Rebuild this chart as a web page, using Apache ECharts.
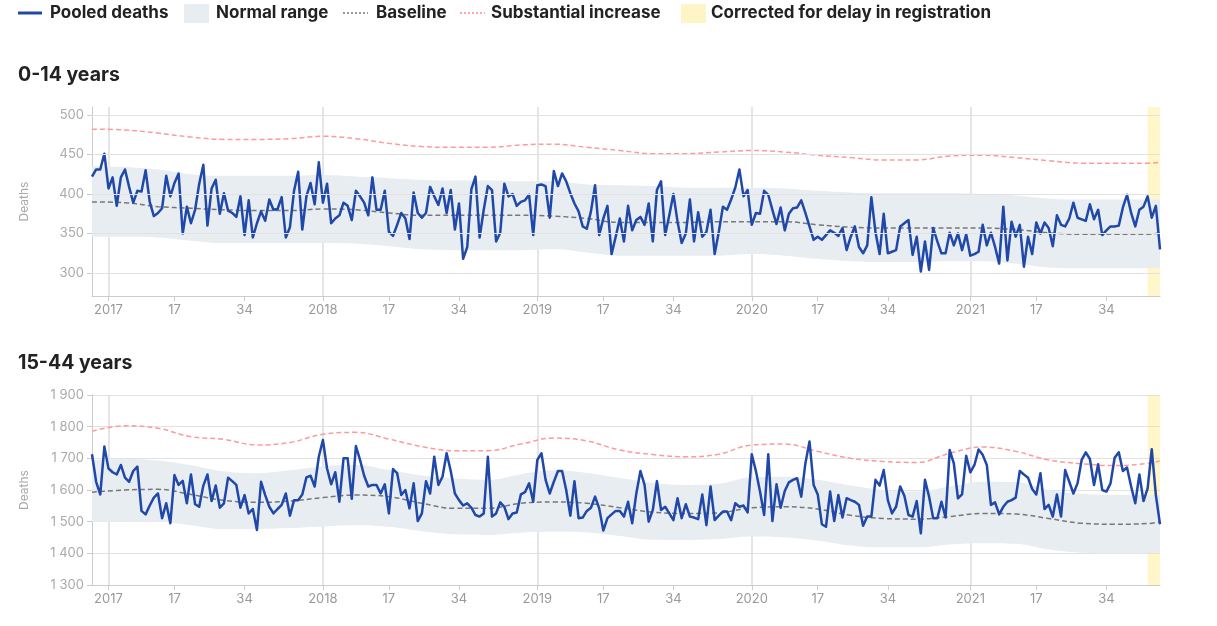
<!DOCTYPE html>
<html><head><meta charset="utf-8">
<script src="https://cdn.jsdelivr.net/npm/echarts@6/dist/echarts.min.js"></script>
<style>html,body{margin:0;padding:0;background:#fff}#c{width:1217px;height:626px}</style>
</head><body><div id="c"></div>
<script>
// ISO weeks shown: [year, firstWeek, lastWeek]
const yearWeeks = [[2016,49,52],[2017,1,52],[2018,1,52],[2019,1,52],[2020,1,53],[2021,1,47]];
const categories = [];
yearWeeks.forEach(([y,a,b]) => { for (let w = a; w <= b; w++) categories.push(y + '-W' + String(w).padStart(2,'0')); });
const labelWeeks = [1,17,34];
const delayStart = '2021-W44', delayEnd = '2021-W47';

const panelTitles = ['0-14 years','15-44 years'];
const yTicks1 = [300,350,400,450,500];
const yTicks2 = [1300,1400,1500,1600,1700,1800,1900];

// Pooled deaths, weekly
const deaths1 = [
422,431,431,451,407,421,385,421,431,409,
389,404,403,430,390,372,376,382,423,397,
414,426,350,384,363,380,413,437,360,407,
418,375,401,379,376,371,397,348,392,345,
363,378,366,393,380,381,396,345,358,404,
428,355,397,414,387,440,389,413,363,369,
373,389,385,367,404,397,389,373,421,380,
380,404,352,347,361,376,369,343,402,376,
370,376,409,397,386,407,376,405,355,388,
318,333,406,422,345,380,410,405,340,351,
413,397,400,385,390,392,399,348,411,412,
410,370,429,410,426,416,401,388,378,359,
356,378,411,348,369,385,324,346,369,340,
385,354,367,371,361,388,340,405,416,348,
373,400,365,338,350,393,340,377,346,352,
380,324,352,384,380,393,408,431,397,405,
361,376,375,404,399,380,362,383,354,375,
382,383,392,376,359,342,346,342,348,354,
351,347,357,329,346,359,333,325,335,396,
352,324,375,325,327,329,359,363,367,323,
346,302,340,304,357,340,325,325,351,335,
350,329,349,322,324,327,361,335,351,333,
312,384,316,365,346,361,308,346,324,364,
350,364,357,334,373,361,359,369,389,370,
368,366,387,368,380,348,354,359,359,360,
383,399,376,359,380,384,397,370,385,330];
const deaths2 = [
1713,1626,1586,1737,1668,1656,1649,1679,1639,1626,
1660,1674,1534,1523,1551,1576,1589,1511,1558,1495,
1647,1616,1629,1558,1649,1555,1547,1614,1649,1565,
1614,1544,1558,1639,1628,1616,1544,1584,1526,1540,
1474,1626,1584,1547,1526,1540,1553,1589,1519,1568,
1568,1586,1640,1645,1611,1705,1758,1668,1618,1656,
1563,1700,1700,1572,1739,1695,1645,1611,1616,1616,
1589,1618,1526,1666,1653,1584,1600,1542,1621,1502,
1526,1628,1589,1705,1616,1642,1716,1660,1589,1568,
1551,1558,1544,1521,1516,1526,1705,1516,1526,1561,
1547,1508,1526,1529,1586,1593,1621,1563,1695,1716,
1632,1589,1626,1660,1660,1600,1519,1628,1511,1513,
1534,1544,1579,1542,1472,1511,1523,1534,1534,1516,
1563,1495,1589,1660,1616,1500,1537,1628,1537,1547,
1526,1505,1574,1511,1555,1516,1513,1508,1586,1489,
1611,1505,1519,1532,1532,1505,1558,1547,1551,1529,
1713,1660,1595,1521,1713,1502,1618,1544,1597,1624,
1632,1637,1579,1684,1753,1616,1586,1492,1484,1595,
1502,1584,1513,1574,1568,1563,1553,1487,1516,1516,
1632,1614,1663,1568,1526,1547,1611,1582,1521,1516,
1565,1463,1632,1579,1511,1511,1563,1513,1726,1684,
1574,1586,1708,1656,1679,1728,1711,1679,1553,1561,
1523,1547,1563,1568,1576,1660,1649,1639,1603,1586,
1653,1540,1553,1516,1586,1516,1663,1626,1589,1621,
1695,1719,1698,1616,1681,1600,1595,1621,1702,1719,
1660,1671,1611,1558,1649,1565,1605,1729,1584,1492];

// Smooth reference curves, read at these week positions (index into categories)
const curveIdx = [0,8,16,24,32,40,48,56,64,72,80,88,96,104,112,120,128,136,144,152,160,168,176,184,192,200,208,216,224,232,240,248,256,259];
const red1  = [482,481,477,472,469,469,470,473,470,464,460,459,459,462,463,459,455,451,451,453,455,453,449,446,443,443,448,449,446,442,439,439,439,440];
const base1 = [390,389,384,382,380,379,379,381,380,376,373,373,373,373,372,369,364,364,364,365,365,365,361,358,357,357,357,357,355,351,349,349,349,351];
const up1   = [435,434,431,425,423,423,423,424,422,420,418,417,417,416,416,412,411,410,408,408,408,407,404,402,401,401,401,400,398,394,393,393,393,393];
const low1  = [346,346,345,341,338,338,338,338,337,334,330,329,329,329,330,326,322,322,322,322,324,322,318,315,314,314,315,315,312,307,306,306,306,306];
const red2  = [1786,1803,1795,1768,1760,1742,1750,1776,1782,1761,1737,1724,1724,1745,1764,1755,1726,1712,1705,1713,1742,1745,1722,1700,1690,1687,1716,1736,1722,1695,1683,1677,1684,1692];
const base2 = [1593,1600,1602,1586,1567,1561,1565,1576,1584,1579,1558,1542,1542,1558,1562,1558,1544,1530,1526,1528,1544,1547,1540,1520,1510,1508,1516,1526,1524,1510,1495,1492,1494,1500];
const up2   = [1695,1698,1693,1678,1659,1653,1662,1675,1680,1663,1646,1636,1632,1650,1662,1654,1638,1623,1616,1620,1640,1642,1632,1614,1600,1595,1611,1626,1625,1600,1588,1584,1584,1584];
const low2  = [1500,1500,1500,1489,1477,1477,1480,1485,1489,1484,1470,1460,1458,1465,1468,1466,1455,1443,1442,1445,1453,1450,1440,1425,1419,1419,1428,1432,1430,1412,1402,1400,1400,1400];

const legendItems = ['Pooled deaths','Normal range','Baseline','Substantial increase','Corrected for delay in registration'];

const C_DEATH = '#1f48a8', C_BAND = '#e8edf2', C_BASE = '#777777', C_RED = '#ff9a9a', C_YEL = 'rgba(255,226,90,0.32)';
const FONT = 'Inter, "Noto Sans", sans-serif';

const wk = v => parseInt(v.slice(6), 10);
const isLabelWeek = v => labelWeeks.indexOf(wk(v)) >= 0;
const fmtWeek = v => wk(v) === 1 ? v.slice(0,4) : String(wk(v));
const fmtThousands = v => String(v).replace(/\B(?=(\d{3})+(?!\d))/g, ' ');
const pairs = vals => vals.map((v,i) => [categories[curveIdx[i]], v]);
const diff = (a,b) => a.map((v,i) => v - b[i]);

const grids = [
  {left: 92, right: 57, top: 107, height: 189},
  {left: 92, right: 57, top: 395, height: 190}
];

function xAxis(k){
  return {type:'category', gridIndex:k, data:categories, boundaryGap:false,
    axisLine:{lineStyle:{color:'#cccccc', width:1}},
    axisTick:{interval:(i,v)=>isLabelWeek(v), length:5, lineStyle:{color:'#cccccc'}},
    axisLabel:{interval:(i,v)=>isLabelWeek(v), formatter:fmtWeek, color:'#999999', fontSize:13, margin:8, fontFamily:FONT},
    splitLine:{show:true, interval:(i,v)=>wk(v)===1, lineStyle:{color:'#dddddd', width:1.5}}};
}
const yAxes = [
  {type:'value', gridIndex:0, min:271, max:510, splitLine:{show:false},
   axisLine:{show:true, lineStyle:{color:'#cccccc'}},
   axisTick:{show:true, length:5, customValues:yTicks1, lineStyle:{color:'#cccccc'}},
   axisLabel:{customValues:yTicks1, formatter:v => (yTicks1.indexOf(v)>=0 ? fmtThousands(v) : ''), color:'#aaaaaa', fontSize:13, margin:8, fontFamily:FONT},
   name:'Deaths', nameLocation:'middle', nameGap:62, nameTextStyle:{color:'#aaaaaa', fontSize:12, fontFamily:FONT}},
  {type:'value', gridIndex:1, min:1300, max:1900, interval:100,
   splitLine:{show:true, lineStyle:{color:'#e2e2e2'}},
   axisLine:{show:true, lineStyle:{color:'#cccccc'}},
   axisTick:{show:true, length:5, lineStyle:{color:'#cccccc'}},
   axisLabel:{formatter:fmtThousands, color:'#aaaaaa', fontSize:13, margin:8, fontFamily:FONT},
   name:'Deaths', nameLocation:'middle', nameGap:62, nameTextStyle:{color:'#aaaaaa', fontSize:12, fontFamily:FONT}}
];

function panelSeries(k, deaths, red, base, up, low, gridTicks){
  const common = {xAxisIndex:k, yAxisIndex:k, type:'line', symbol:'none', showSymbol:false, silent:true};
  const s = [];
  const lower = Object.assign({}, common, {name:'lowerBand'+k, data:pairs(low), stack:'band'+k, smooth:0.4, lineStyle:{opacity:0}, z:1});
  if (gridTicks) lower.markLine = {silent:true, symbol:'none', label:{show:false}, lineStyle:{color:'#e2e2e2', type:'solid', width:1},
      data: gridTicks.map(t => ({yAxis:t}))};
  s.push(lower);
  s.push(Object.assign({}, common, {name:legendItems[1], data:pairs(diff(up,low)), stack:'band'+k, smooth:0.4, lineStyle:{opacity:0}, areaStyle:{color:C_BAND, opacity:1}, z:2}));
  s.push(Object.assign({}, common, {name:legendItems[2], data:pairs(base), smooth:0.4, lineStyle:{color:C_BASE, width:1.5, type:[5,3]}, z:3}));
  s.push(Object.assign({}, common, {name:legendItems[3], data:pairs(red), smooth:0.4, lineStyle:{color:C_RED, width:1.5, type:[5,3]}, z:3}));
  s.push(Object.assign({}, common, {name:legendItems[0], data:deaths, lineStyle:{color:C_DEATH, width:2.5, join:'round'}, z:4}));
  s.push(Object.assign({}, common, {name:legendItems[4], data:[], z:6,
    markArea:{silent:true, itemStyle:{color:C_YEL}, data:[[{xAxis:delayStart},{xAxis:delayEnd}]]}}));
  return s;
}

const legendX = [18, 184, 343, 460, 681];
const legendTextX = [50, 216, 376, 491, 711];
const LY = 13;
const graphic = [
  {type:'line', shape:{x1:legendX[0], y1:LY, x2:legendX[0]+24, y2:LY}, style:{stroke:C_DEATH, lineWidth:3}},
  {type:'rect', shape:{x:legendX[1], y:4, width:25, height:19}, style:{fill:C_BAND}},
  {type:'line', shape:{x1:legendX[2], y1:LY, x2:legendX[2]+25, y2:LY}, style:{stroke:C_BASE, lineWidth:1.5, lineDash:[2,2]}},
  {type:'line', shape:{x1:legendX[3], y1:LY, x2:legendX[3]+25, y2:LY}, style:{stroke:'#ff8c8c', lineWidth:1.5, lineDash:[2,2]}},
  {type:'rect', shape:{x:legendX[4], y:4, width:25, height:19}, style:{fill:'#fdf5c6'}}
];
legendItems.forEach((t,i) => graphic.push({type:'text', x:legendTextX[i], y:LY, style:{text:t, font:'bold 17px ' + FONT, fill:'#222222', verticalAlign:'middle'}}));
graphic.push({type:'text', x:18, y:75, style:{text:panelTitles[0], font:'bold 19.5px ' + FONT, fill:'#222222', verticalAlign:'middle'}});
graphic.push({type:'text', x:18, y:363, style:{text:panelTitles[1], font:'bold 19.5px ' + FONT, fill:'#222222', verticalAlign:'middle'}});

const chart = echarts.init(document.getElementById('c'), null, {renderer:'canvas'});
chart.setOption({
  animation:false,
  backgroundColor:'#ffffff',
  grid: grids,
  xAxis: [xAxis(0), xAxis(1)],
  yAxis: yAxes,
  graphic: graphic,
  series: panelSeries(0, deaths1, red1, base1, up1, low1, yTicks1)
    .concat(panelSeries(1, deaths2, red2, base2, up2, low2, null))
});
</script></body></html>
